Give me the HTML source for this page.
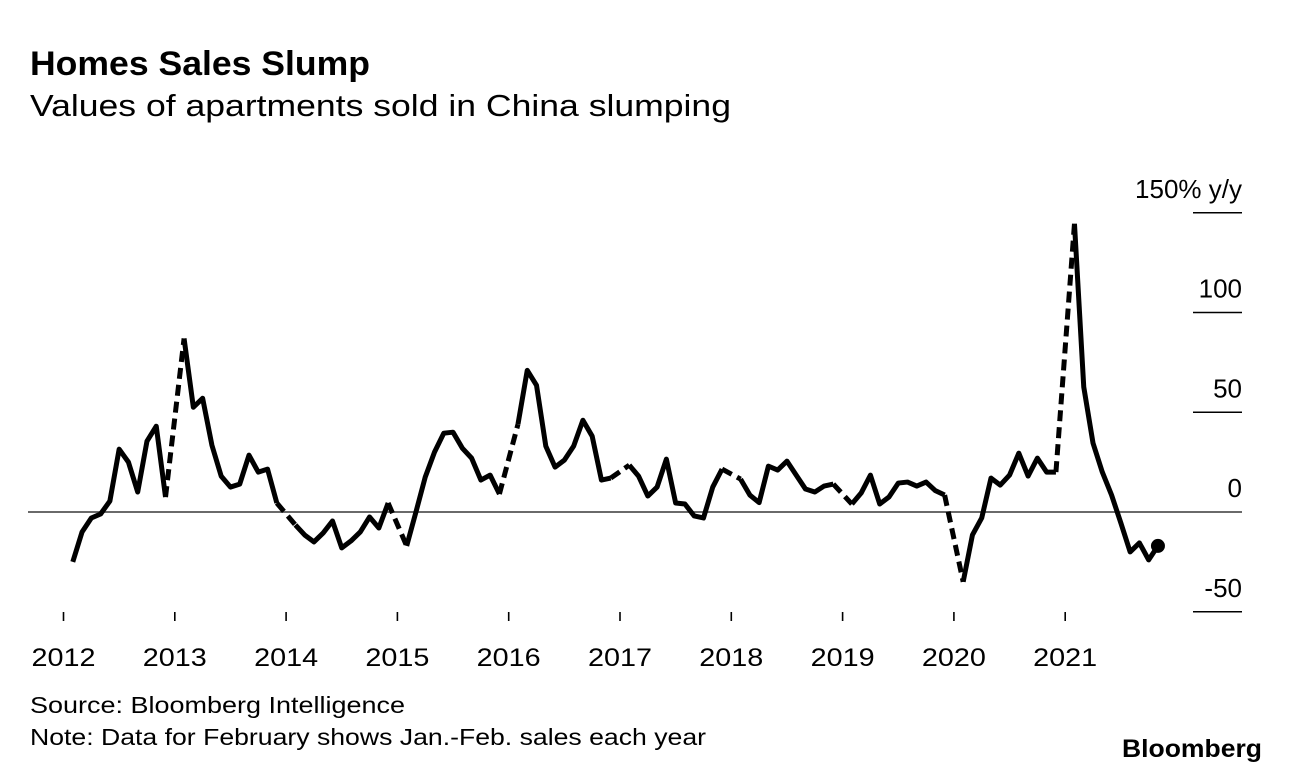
<!DOCTYPE html>
<html><head><meta charset="utf-8"><style>
html,body{margin:0;padding:0;background:#fff;}
svg{display:block;font-family:"Liberation Sans",sans-serif;}
</style></head><body>
<svg id="chart" width="1289" height="774" viewBox="0 0 1289 774" xmlns="http://www.w3.org/2000/svg">
<rect width="1289" height="774" fill="#fff"/>
<text x="30" y="75" font-size="34" font-weight="bold" textLength="340" lengthAdjust="spacingAndGlyphs">Homes Sales Slump</text>
<text x="30" y="116" font-size="31" textLength="701" lengthAdjust="spacingAndGlyphs">Values of apartments sold in China slumping</text>
<g id="axes"></g>
<g id="series"></g>
<text x="30" y="713" font-size="23" textLength="375" lengthAdjust="spacingAndGlyphs">Source: Bloomberg Intelligence</text>
<text x="30" y="745" font-size="23" textLength="676" lengthAdjust="spacingAndGlyphs">Note: Data for February shows Jan.-Feb. sales each year</text>
<text x="1262" y="757" font-size="25" font-weight="bold" text-anchor="end" textLength="140" lengthAdjust="spacingAndGlyphs">Bloomberg</text>
</svg>
<script>
const years = [2012,2013,2014,2015,2016,2017,2018,2019,2020,2021];
const yTicks = [-50,0,50,100,150];
const yTickLabels = ["-50","0","50","100","150% y/y"];
// Monthly values Feb..Dec per year (Jan combined into Feb)
const v2012 = [-25,-10,-3,-1,5.5,31.5,25,10,35.5,43,7.5];
const v2013 = [87,52.5,57,33.5,18,12.5,14,28.5,20,21.5,4.5];
const v2014 = [-6.5,-11.5,-15,-10.5,-4.5,-18,-14.5,-10,-2.5,-8,4.5];
const v2015 = [-17,0,17.5,30,39.5,40,32,27,16,18.5,9];
const v2016 = [44,71,63.5,33,22.5,26,33,46,38,16,17];
const v2017 = [23.5,18,8,12.5,26.5,4.5,4,-2,-3,12.5,21.5];
const v2018 = [16.5,8.5,4.7,23,21,25.5,18.5,11.5,10,13,14];
const v2019 = [4,9.5,18.5,4,7.5,14.5,15,13,15,10.7,8.5];
const v2020 = [-35,-11.5,-3,17,13.5,18.5,29.5,18,27,20,20];
const v2021 = [144.5,62.7,34.5,20,8.5,-5.5,-20,-15.5,-24,-17];
const yearValues = [v2012,v2013,v2014,v2015,v2016,v2017,v2018,v2019,v2020,v2021];

const NS = "http://www.w3.org/2000/svg";
const x0 = 63.5, yearW = 111.3;
function xScale(year, monthIdx){ return x0 + (year - years[0]) * yearW + monthIdx * yearW / 12; }
function yScale(v){ return 512 - v * 1.995; }
function mk(tag, attrs, parent){ const e = document.createElementNS(NS, tag); for (const k in attrs) e.setAttribute(k, attrs[k]); parent.appendChild(e); return e; }

const axes = document.getElementById('axes');
const series = document.getElementById('series');

yTicks.forEach((t, i) => {
  const y = yScale(t);
  if (t === 0) {
    const zl = mk('line', {x1:28, x2:1242, y1:y, y2:y, stroke:'#555', 'stroke-width':1.8}, axes);
    
    
  } else {
    const gl = mk('line', {x1:1193, x2:1242, y1:y, y2:y, stroke:'#000', 'stroke-width':1.6}, axes);
    
    
  }
  const lab = mk('text', {x:1242, y:y - 15, 'font-size':26, 'text-anchor':'end'}, axes);
  lab.textContent = yTickLabels[i];
  
  
});

years.forEach(yr => {
  const x = xScale(yr, 0);
  const tk = mk('line', {x1:x, x2:x, y1:612, y2:621, stroke:'#000', 'stroke-width':1.6}, axes);
  
  
  const lab = mk('text', {x:x, y:666, 'font-size':25, 'text-anchor':'middle', textLength:64, lengthAdjust:'spacingAndGlyphs'}, axes);
  lab.textContent = String(yr);
  
  
});

let prevEnd = null;
yearValues.forEach((vals, yi) => {
  const yr = years[yi];
  const pts = vals.map((v, m) => [xScale(yr, m + 1), yScale(v)]);
  if (prevEnd) {
    const d = mk('line', {x1:prevEnd[0], y1:prevEnd[1], x2:pts[0][0], y2:pts[0][1], stroke:'#000', 'stroke-width':5, 'stroke-dasharray':'11 6', fill:'none'}, series);
    
    
  }
  const p = mk('polyline', {points: pts.map(q => q.join(',')).join(' '), fill:'none', stroke:'#000', 'stroke-width':5, 'stroke-linejoin':'round', 'stroke-linecap':'butt'}, series);
  
  
  prevEnd = pts[pts.length - 1];
});
const dot = mk('circle', {cx:prevEnd[0], cy:prevEnd[1], r:7, fill:'#000'}, series);


</script>
</body></html>
